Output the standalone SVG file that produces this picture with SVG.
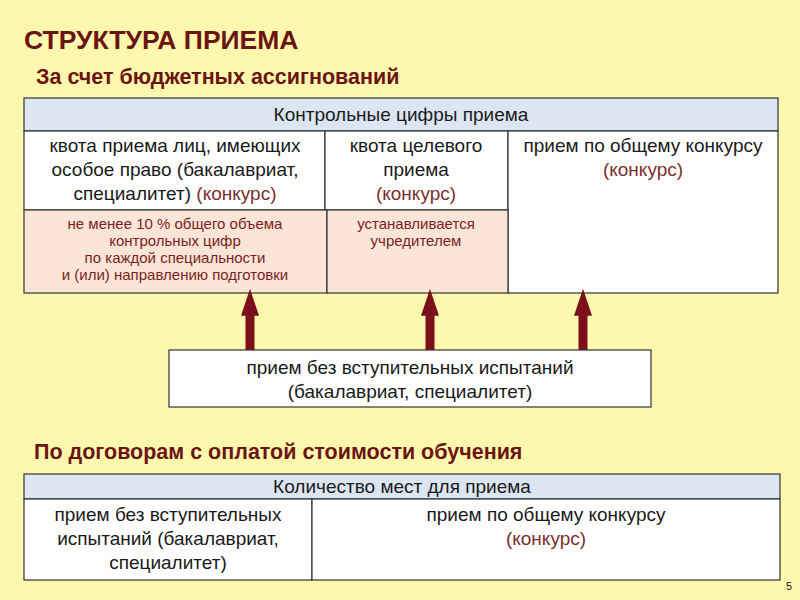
<svg xmlns="http://www.w3.org/2000/svg" width="800" height="600" viewBox="0 0 800 600">
<style>
text{font-family:"Liberation Sans",Arial,sans-serif;fill:#1a1a1a;text-anchor:middle}
.h{font-weight:bold;fill:#6b1414;text-anchor:start}
.c{stroke:#333;stroke-width:1.2}
.w{fill:#fff}
.b{fill:#dce6f2}
.p{fill:#fbe5d6}
.t{font-size:19px}
.s{font-size:15px;fill:#7a1f1f}
.k{fill:#7a3030}
</style>
<defs><marker id="ah" markerWidth="3" markerHeight="2" refX="0.2" refY="1" orient="auto" markerUnits="strokeWidth"><path d="M0,0L3,1L0,2z" fill="#7b0f1a"/></marker></defs>
<rect width="800" height="600" fill="#fdf8ae"/>
<text class="h" x="24" y="49" font-size="26.5">СТРУКТУРА ПРИЕМА</text>
<text class="h" x="36" y="84" font-size="21.5">За счет бюджетных ассигнований</text>
<text class="h" x="34" y="459" font-size="21.5">По договорам с оплатой стоимости обучения</text>
<g id="header1"><rect class="c b" x="24" y="98" width="754" height="33"/><text class="t" x="401" y="121">Контрольные цифры приема</text></g>
<g id="quota1"><rect class="c w" x="24" y="131" width="301" height="79"/>
<text class="t" x="175" y="152">квота приема лиц, имеющих</text><text class="t" x="175" y="176">особое право (бакалавриат,</text><text class="t" x="175" y="200">специалитет) <tspan class="k">(конкурс)</tspan></text></g>
<g id="quota2"><rect class="c w" x="325" y="131" width="183" height="79"/>
<text class="t" x="416" y="152">квота целевого</text><text class="t" x="416" y="176">приема</text><text class="t k" x="416" y="200">(конкурс)</text></g>
<g id="general1"><rect class="c w" x="508" y="131" width="270" height="162"/>
<text class="t" x="643" y="152">прием по общему конкурсу</text><text class="t k" x="643" y="176">(конкурс)</text></g>
<g id="note1"><rect class="c p" x="24" y="210" width="303" height="83"/>
<text class="s" x="175" y="229">не менее 10 % общего объема</text><text class="s" x="175" y="246">контрольных цифр</text><text class="s" x="175" y="263">по каждой специальности</text><text class="s" x="175" y="280">и (или) направлению подготовки</text></g>
<g id="note2"><rect class="c p" x="327" y="210" width="181" height="83"/>
<text class="s" x="416" y="229">устанавливается</text><text class="s" x="416" y="246">учредителем</text></g>
<g id="connectors" stroke="#7b0f1a" stroke-width="9" marker-end="url(#ah)">
<line x1="250" y1="350" x2="250" y2="314"/>
<line x1="430" y1="350" x2="430" y2="314"/>
<line x1="583" y1="350" x2="583" y2="314"/>
</g>
<g id="noexam"><rect class="c w" x="169" y="350" width="482" height="57"/>
<text class="t" x="410" y="374">прием без вступительных испытаний</text><text class="t" x="410" y="398">(бакалавриат, специалитет)</text></g>
<g id="header2"><rect class="c b" x="24" y="474" width="756" height="25"/><text class="t" x="402" y="493">Количество мест для приема</text></g>
<g id="noexam2"><rect class="c w" x="24" y="499" width="288" height="81"/>
<text class="t" x="168" y="521">прием без вступительных</text><text class="t" x="168" y="545">испытаний (бакалавриат,</text><text class="t" x="168" y="569">специалитет)</text></g>
<g id="general2"><rect class="c w" x="312" y="499" width="468" height="81"/>
<text class="t" x="546" y="521">прием по общему конкурсу</text><text class="t k" x="546" y="545">(конкурс)</text></g>
<text x="789" y="590" font-size="11" fill="#aaa">5</text>
</svg>
